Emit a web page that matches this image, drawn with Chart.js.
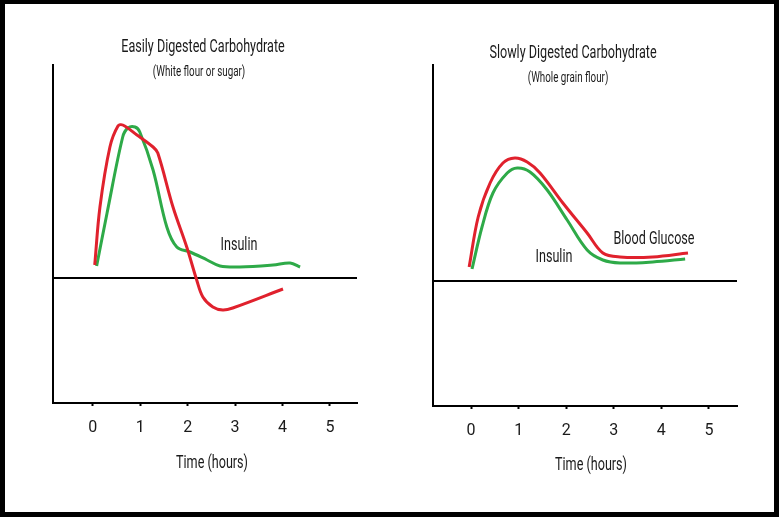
<!DOCTYPE html>
<html lang="en">
<head>
  <meta charset="UTF-8">
  <title>Carbohydrate digestion</title>
  <script src="https://cdn.jsdelivr.net/npm/chart.js"></script>
  <style>
    body {
      margin: 0;
      width: 779px;
      height: 517px;
      background: #000;
      position: relative;
      overflow: hidden;
      font-family: Roboto, 'DejaVu Sans', sans-serif;
      color: #1a1a1a;
    }

    .paper {
      position: absolute;
      left: 5px;
      top: 4px;
      width: 769px;
      height: 508px;
      background: #fff;
    }

    canvas {
      position: absolute;
      top: 0;
    }

    /* narrow, tall lettering like the original */
    .txt {
      position: absolute;
      transform: translate(-50%, -50%) scaleX(0.7);
      white-space: nowrap;
      line-height: 1;
    }

    .title { font-size: 18px; }
    .sub { font-size: 14px; }
    .note { font-size: 18px; }
  </style>
</head>
<body>
  <div class="paper"></div>

  <canvas id="fastChart" width="390" height="517" style="left:0"></canvas>
  <canvas id="slowChart" width="389" height="517" style="left:390px"></canvas>

  <div class="txt title" style="left:203px; top:46px">Easily Digested Carbohydrate</div>
  <div class="txt sub" style="left:199px; top:71px">(White flour or sugar)</div>
  <div class="txt note" style="left:239px; top:244px">Insulin</div>
  <div class="txt note" style="left:212px; top:462px">Time (hours)</div>

  <div class="txt title" style="left:573px; top:52px">Slowly Digested Carbohydrate</div>
  <div class="txt sub" style="left:568px; top:77px">(Whole grain flour)</div>
  <div class="txt note" style="left:554px; top:256px">Insulin</div>
  <div class="txt note" style="left:654px; top:238px">Blood Glucose</div>
  <div class="txt note" style="left:591px; top:464px">Time (hours)</div>

  <script>
    // x tick labels (hours)
    const hourTicks = [0, 1, 2, 3, 4, 5];

    // easily digested: blood glucose (red) and insulin (green)
    const fastGlucoseHours = [0.04, 0.15, 0.36, 0.53, 0.63, 0.93, 1.27, 1.37, 1.69, 1.98, 2.19, 2.32, 2.53, 2.74, 2.95, 4.01];
    const fastGlucose      = [13, 71, 131, 152, 153, 143, 131, 125, 71, 31, -2, -19, -29, -32, -30, -11];
    const fastInsulinHours = [0.08, 0.30, 0.63, 0.74, 0.89, 0.99, 1.27, 1.56, 1.77, 2.05, 2.41, 2.68, 3.10, 3.80, 4.16, 4.37];
    const fastInsulin      = [12, 65, 141, 150, 151, 146, 108, 51, 31, 26, 18, 12, 11, 13, 15, 11];

    // slowly digested
    const slowGlucoseHours = [-0.04, 0.15, 0.40, 0.67, 0.92, 1.18, 1.45, 1.93, 2.44, 2.77, 3.13, 3.82, 4.56];
    const slowGlucose      = [14, 64, 98, 118, 123, 119, 108, 78, 48, 28, 24, 24, 28];
    const slowInsulinHours = [0.02, 0.23, 0.46, 0.76, 0.97, 1.24, 1.60, 2.02, 2.44, 2.77, 3.13, 3.82, 4.50];
    const slowInsulin      = [12, 54, 88, 108, 113, 109, 91, 61, 31, 21, 18, 19, 22];

    const RED = '#e0212d';
    const GREEN = '#2eaa48';

    function toPoints(xs, ys) {
      return xs.map((x, i) => ({ x: x, y: ys[i] }));
    }

    function makeChart(id, glucose, insulin, range, pad) {
      return new Chart(document.getElementById(id), {
        type: 'line',
        data: {
          datasets: [
            { data: glucose, borderColor: RED, borderWidth: 3, pointRadius: 0, tension: 0.35 },
            { data: insulin, borderColor: GREEN, borderWidth: 3, pointRadius: 0, tension: 0.35 }
          ]
        },
        options: {
          responsive: false,
          devicePixelRatio: 1,
          animation: false,
          layout: { padding: pad },
          plugins: { legend: { display: false }, tooltip: { enabled: false } },
          scales: {
            x: {
              type: 'linear',
              min: range.xMin,
              max: range.xMax,
              afterBuildTicks: s => { s.ticks = hourTicks.map(v => ({ value: v })); },
              afterFit: s => { s.height = 73; },
              grid: { drawOnChartArea: false, tickLength: 3, tickColor: '#000', tickWidth: 2 },
              border: { color: '#000', width: 2 },
              ticks: { color: '#1a1a1a', padding: 12, font: { family: 'Roboto', size: 16 } }
            },
            y: {
              min: range.yMin,
              max: range.yMax,
              afterBuildTicks: s => { s.ticks = [{ value: 0 }]; },
              afterFit: s => { s.width = 0; },
              ticks: { display: false },
              grid: { color: '#000', lineWidth: 2, drawTicks: false },
              border: { color: '#000', width: 2 }
            }
          }
        }
      });
    }

    makeChart('fastChart',
      toPoints(fastGlucoseHours, fastGlucose),
      toPoints(fastInsulinHours, fastInsulin),
      { xMin: -0.84, xMax: 5.57, yMin: -125, yMax: 213 },
      { left: 53, right: 33, top: 65, bottom: 41 });

    makeChart('slowChart',
      toPoints(slowGlucoseHours, slowGlucose),
      toPoints(slowInsulinHours, slowInsulin),
      { xMin: -0.80, xMax: 5.59, yMin: -125, yMax: 216 },
      { left: 43, right: 42, top: 65, bottom: 38 });
  </script>
</body>
</html>
